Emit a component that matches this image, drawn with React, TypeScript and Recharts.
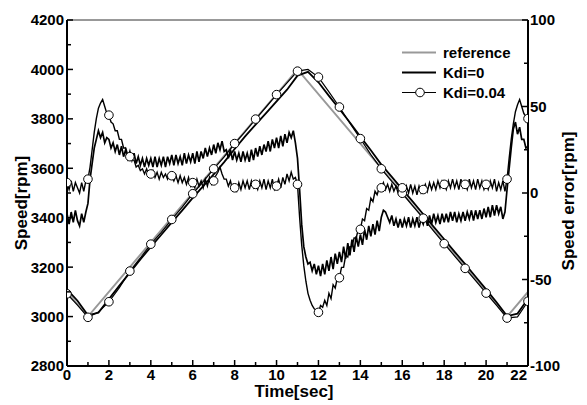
import React from 'react';
import { LineChart, Line, XAxis, YAxis, ReferenceLine, Legend } from 'recharts';

const FONT = '"Liberation Sans", Arial, sans-serif';

// x ticks: every second, labelled every two
const timeTicks = [0, 1, 2, 3, 4, 5, 6, 7, 8, 9, 10, 11, 12, 13, 14, 15, 16, 17, 18, 19, 20, 21, 22];
const speedTicks = [2800, 2900, 3000, 3100, 3200, 3300, 3400, 3500, 3600, 3700, 3800, 3900, 4000, 4100, 4200];
const errorTicks = [-100, -75, -50, -25, 0, 25, 50, 75, 100];

// reference speed profile (corner points)
const refTime = [0, 1, 11, 21, 22];
const refSpeed = [3100, 3000, 4000, 3000, 3100];

// measured speed, sampled every 0.5 s
const speedTime = Array.from({ length: 45 }, (_, i) => i / 2);
const speedKdi0 = [
  3110, 3064, 3005, 3016, 3071, 3125, 3178, 3231, 3282, 3331,
  3381, 3430, 3480, 3528, 3575, 3625, 3678, 3729, 3777, 3823,
  3871, 3918, 3975, 3990, 3948, 3893, 3840, 3785, 3728, 3673,
  3615, 3565, 3515, 3465, 3414, 3363, 3313, 3262, 3212, 3161,
  3110, 3058, 3002, 3012, 3072,
];
const speedKdi004 = [
  3092, 3046, 2997, 3018, 3060, 3117, 3184, 3237, 3293, 3341,
  3393, 3443, 3497, 3546, 3598, 3646, 3700, 3748, 3799, 3848,
  3898, 3946, 3993, 4000, 3969, 3909, 3848, 3783, 3720, 3655,
  3598, 3547, 3499, 3448, 3398, 3346, 3295, 3245, 3195, 3145,
  3095, 3045, 2994, 2999, 3062,
];

// speed error, sampled every 0.1 s
const errTime = Array.from({ length: 221 }, (_, i) => i / 10);
const errKdi0 = [
  -12, -18, -11, -17, -10, -16, -19, -12, -17, -11,
  -6, 8, 17, 26, 31, 36, 32, 35, 29, 32,
  31, 26, 29, 24, 28, 22, 27, 21, 25, 20,
  24, 19, 23, 17, 21, 16, 20, 15, 20, 16,
  20, 15, 21, 15, 20, 16, 21, 15, 21, 17,
  22, 16, 22, 17, 21, 16, 23, 17, 22, 18,
  23, 17, 24, 18, 24, 20, 26, 21, 26, 22,
  28, 23, 29, 25, 30, 24, 25, 20, 25, 19,
  24, 19, 23, 18, 24, 19, 23, 18, 25, 19,
  26, 21, 27, 22, 28, 24, 30, 24, 31, 26,
  32, 26, 33, 27, 34, 29, 35, 32, 36, 29,
  20, 2, -18, -31, -37, -41, -40, -45, -41, -47,
  -42, -48, -41, -47, -39, -45, -37, -44, -35, -41,
  -34, -40, -31, -38, -29, -36, -27, -34, -25, -31,
  -24, -30, -21, -27, -19, -25, -18, -24, -16, -22,
  -14, -10, -11, -14, -17, -13, -19, -15, -20, -15,
  -20, -15, -19, -14, -20, -15, -19, -14, -20, -15,
  -18, -13, -19, -13, -18, -12, -17, -13, -18, -12,
  -17, -12, -17, -11, -16, -11, -17, -12, -16, -11,
  -16, -11, -15, -10, -16, -10, -15, -10, -15, -9,
  -14, -8, -14, -7, -13, -7, -12, -8, -15, -11,
  2, 14, 26, 37, 41, 34, 38, 31, 31, 26,
  27,
];
const errKdi004 = [
  6, 2, 7, 1, 6, 3, 0, 6, 1, 7,
  8, 15, 25, 35, 43, 49, 52, 54, 50, 46,
  45, 41, 40, 36, 36, 31, 31, 26, 26, 22,
  21, 19, 19, 15, 16, 13, 14, 11, 14, 10,
  11, 13, 9, 12, 8, 12, 9, 11, 8, 11,
  10, 7, 10, 6, 10, 6, 9, 5, 9, 4,
  6, 3, 8, 4, 7, 3, 8, 4, 9, 5,
  7, 10, 12, 15, 11, 8, 8, 4, 7, 2,
  3, 1, 6, 2, 7, 3, 7, 2, 7, 3,
  5, 2, 7, 3, 8, 2, 7, 3, 8, 2,
  4, 8, 3, 9, 5, 11, 7, 12, 8, 9,
  5, -14, -30, -42, -51, -58, -62, -65, -67, -68,
  -69, -65, -66, -62, -65, -58, -61, -53, -55, -49,
  -49, -43, -43, -36, -37, -31, -31, -26, -26, -21,
  -21, -15, -16, -9, -10, -3, -5, 1, -1, 3,
  3, 6, 2, 5, 1, 5, 1, 4, 0, 3,
  3, -1, 4, 0, 5, 0, 4, -1, 4, 0,
  2, 5, 1, 6, 2, 6, 2, 7, 3, 7,
  5, 2, 7, 3, 8, 3, 7, 2, 8, 3,
  5, 2, 8, 3, 7, 2, 8, 3, 7, 2,
  5, 2, 7, 3, 8, 1, 6, 2, 7, 1,
  8, 20, 31, 40, 47, 51, 54, 50, 46, 44,
  43,
];

const refRows = refTime.map((t, i) => ({ t, v: refSpeed[i] }));
const speedRows = speedTime.map((t, i) => ({ t, kdi0: speedKdi0[i], kdi004: speedKdi004[i] }));
const errRows = errTime.map((t, i) => ({ t, kdi0: errKdi0[i], kdi004: errKdi004[i] }));

const legendItems = [
  { label: 'reference', color: '#999', width: 2, marker: false },
  { label: 'Kdi=0', color: '#000', width: 2, marker: false },
  { label: 'Kdi=0.04', color: '#000', width: 1, marker: true },
];

const textStyle = { fontFamily: FONT, fontWeight: 700, fontSize: 15, fill: '#000' };

// open circle only on whole seconds
const ringDot = (p: any) => {
  if (!Number.isInteger(p.payload.t)) return <g key={`d${p.index}`} />;
  return <circle key={`d${p.index}`} cx={p.cx} cy={p.cy} r={4.3} fill="#fff" stroke="#000" strokeWidth={1} />;
};

const TimeTick = (p: any) => {
  const v = p.payload.value;
  const major = v % 2 === 0;
  const last = v === 22;
  return (
    <g>
      <line x1={p.x} x2={p.x} y1={p.y} y2={p.y - (major ? 6 : 4)} stroke="#000" strokeWidth={1.5} />
      {major && (
        <text x={last ? p.x - 1 : p.x} y={p.y + 14} textAnchor={last ? 'end' : 'middle'} style={textStyle}>
          {v}
        </text>
      )}
    </g>
  );
};

const SpeedTick = (p: any) => {
  const v = p.payload.value;
  const major = v % 200 === 0;
  return (
    <g>
      <line x1={p.x} x2={p.x + (major ? 6 : 4)} y1={p.y} y2={p.y} stroke="#000" strokeWidth={1.5} />
      {major && (
        <text x={p.x - 3} y={p.y + 5.4} textAnchor="end" style={textStyle}>
          {v}
        </text>
      )}
    </g>
  );
};

const ErrorTick = (p: any) => {
  const v = p.payload.value;
  const major = v % 50 === 0;
  return (
    <g>
      <line x1={p.x} x2={p.x - (major ? 6 : 4)} y1={p.y} y2={p.y} stroke="#000" strokeWidth={1.5} />
      {major && (
        <text x={p.x + 2} y={p.y + 5.4} textAnchor="start" style={textStyle}>
          {v}
        </text>
      )}
    </g>
  );
};

const titleStyle = { fontFamily: FONT, fontWeight: 700, fontSize: 17, fill: '#000' };

const LegendBox = () => (
  <svg width={150} height={64}>
    {legendItems.map((item, i) => {
      const y = 12.5 + i * 20;
      return (
        <g key={item.label}>
          <line x1={4} x2={38} y1={y} y2={y} stroke={item.color} strokeWidth={item.width} />
          {item.marker && <circle cx={22} cy={y} r={4.3} fill="#fff" stroke="#000" strokeWidth={1} />}
          <text x={45} y={y + 5.4} style={textStyle}>
            {item.label}
          </text>
        </g>
      );
    })}
  </svg>
);

export default function App() {
  return (
    <div style={{ position: 'absolute', left: 0, top: 0, background: '#fff' }}>
      <LineChart width={587} height={405} margin={{ top: 20, right: 0, bottom: 0, left: 0 }}>
        <XAxis
          dataKey="t"
          type="number"
          domain={[0, 22]}
          ticks={timeTicks}
          interval={0}
          allowDataOverflow
          height={39}
          tickSize={0}
          tickMargin={0}
          tickLine={false}
          tick={TimeTick}
          axisLine={{ stroke: '#000', strokeWidth: 2 }}
          label={() => (
            <text x={294} y={397} textAnchor="middle" style={titleStyle}>
              Time[sec]
            </text>
          )}
        />
        <YAxis
          yAxisId="speed"
          domain={[2800, 4200]}
          ticks={speedTicks}
          interval={0}
          allowDataOverflow
          width={67}
          tickSize={0}
          tickMargin={0}
          tickLine={false}
          tick={SpeedTick}
          axisLine={{ stroke: '#000', strokeWidth: 2 }}
          label={() => (
            <text x={27} y={203} textAnchor="middle" transform="rotate(-90 27 203)" style={titleStyle}>
              Speed[rpm]
            </text>
          )}
        />
        <YAxis
          yAxisId="err"
          orientation="right"
          domain={[-100, 100]}
          ticks={errorTicks}
          interval={0}
          allowDataOverflow
          width={59}
          tickSize={0}
          tickMargin={0}
          tickLine={false}
          tick={ErrorTick}
          axisLine={{ stroke: '#000', strokeWidth: 2 }}
          label={() => (
            <text x={574} y={201} textAnchor="middle" transform="rotate(-90 574 201)" style={titleStyle}>
              Speed error[rpm]
            </text>
          )}
        />
        <ReferenceLine yAxisId="speed" y={4200} stroke="#333" strokeWidth={1} />
        <Legend
          layout="horizontal"
          verticalAlign="middle"
          align="center"
          content={LegendBox}
          wrapperStyle={{ left: 398, top: 40, width: 150, height: 64 }}
        />

        <Line
          yAxisId="speed"
          data={refRows}
          dataKey="v"
          type="linear"
          stroke="#999"
          strokeWidth={2}
          dot={false}
          activeDot={false}
          isAnimationActive={false}
        />
        <Line
          yAxisId="speed"
          data={speedRows}
          dataKey="kdi0"
          type="linear"
          stroke="#000"
          strokeWidth={1.8}
          dot={false}
          activeDot={false}
          isAnimationActive={false}
        />
        <Line
          yAxisId="speed"
          data={speedRows}
          dataKey="kdi004"
          type="linear"
          stroke="#000"
          strokeWidth={1.2}
          dot={ringDot}
          activeDot={false}
          isAnimationActive={false}
        />
        <Line
          yAxisId="err"
          data={errRows}
          dataKey="kdi0"
          type="linear"
          stroke="#000"
          strokeWidth={1.7}
          dot={false}
          activeDot={false}
          isAnimationActive={false}
        />
        <Line
          yAxisId="err"
          data={errRows}
          dataKey="kdi004"
          type="linear"
          stroke="#000"
          strokeWidth={1.4}
          dot={ringDot}
          activeDot={false}
          isAnimationActive={false}
        />
      </LineChart>
    </div>
  );
}
